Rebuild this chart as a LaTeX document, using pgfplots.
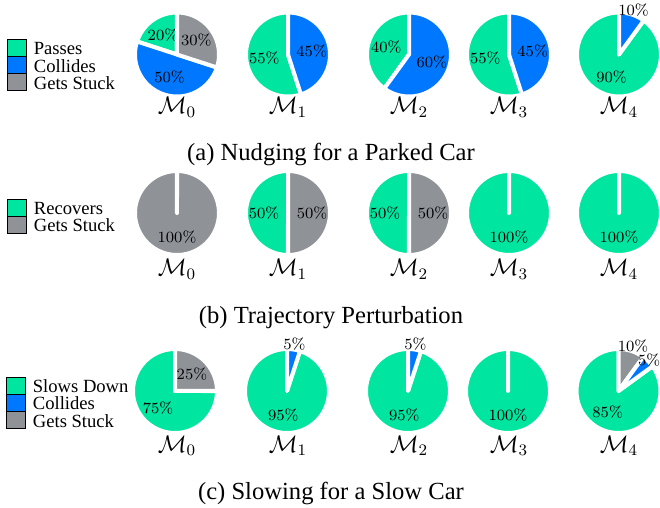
\documentclass[border=0pt]{standalone}
\usepackage[no-math]{fontspec}
\setmainfont{Liberation Serif}
\newfontfamily\lmfont{Latin Modern Roman}
\usepackage{pgfplots}
\pgfplotsset{compat=1.18}

\definecolor{pass}{RGB}{0,229,160}
\definecolor{coll}{RGB}{0,119,255}
\definecolor{stuck}{RGB}{143,147,152}

\pgfplotsset{
  pie/.style={
    hide axis, clip=false, scale only axis,
    width=42pt, height=42pt,
    xmin=-1, xmax=1, ymin=-1, ymax=1,
    anchor=origin,
  },
  pielegend/.style={
    legend style={draw=none, fill=none, inner sep=0pt, outer sep=0pt,
      anchor=north west, at={#1},
      font=\fontsize{9.3}{9.3}\selectfont,
      row sep=-2.0pt, column sep=0pt,
      nodes={inner sep=0pt, outer sep=0pt, text height=6.0pt, text depth=2.6pt}},
    legend cell align=left,
    legend image code/.code={
      \draw[##1, draw=black, line width=0.5pt] (0pt,-2.6pt) rectangle (9.5pt,6.0pt);
      \path (13pt,0pt);
    },
  },
}

% start (%), value (%), colour, label radius
\newcommand\slice[4]{%
  \addplot[forget plot, fill=#3, draw=white, line width=2pt, line join=round,
    domain=90+3.6*(#1):90+3.6*(#1+#2), samples=72, variable=\t]
    ({cos(\t)},{sin(\t)}) -- (axis cs:0,0) -- cycle;
  \node[font=\lmfont\fontsize{7.8}{7.8}\selectfont, inner sep=0pt]
    at (axis cs:{#4*cos(90+3.6*(#1+#2/2))},{#4*sin(90+3.6*(#1+#2/2))}) {#2\%};
}

\begin{document}
\begin{tikzpicture}
\useasboundingbox (0,0) rectangle (330pt,-254pt);

% ---------- (a) Nudging for a Parked Car
\begin{axis}[pie, at={(88.5pt,-27.25pt)},
    pielegend={(axis description cs:-1.524,0.6845)}]
  \addlegendimage{fill=pass}\addlegendentry{Passes}
  \addlegendimage{fill=coll}\addlegendentry{Collides}
  \addlegendimage{fill=stuck}\addlegendentry{Gets Stuck}
  \slice{0}{20}{pass}{0.57}
  \slice{20}{50}{coll}{0.57}
  \slice{70}{30}{stuck}{0.57}
\end{axis}
\begin{axis}[pie, at={(144pt,-27.25pt)}]
  \slice{0}{55}{pass}{0.57}
  \slice{55}{45}{coll}{0.57}
\end{axis}
\begin{axis}[pie, at={(204.5pt,-27.25pt)}]
  \slice{0}{40}{pass}{0.57}
  \slice{40}{60}{coll}{0.57}
\end{axis}
\begin{axis}[pie, at={(254.5pt,-27.25pt)}]
  \slice{0}{55}{pass}{0.57}
  \slice{55}{45}{coll}{0.57}
\end{axis}
\begin{axis}[pie, at={(309.5pt,-27.25pt)}]
  \slice{0}{90}{pass}{0.57}
  \slice{90}{10}{coll}{1.12}
\end{axis}

% ---------- (b) Trajectory Perturbation
\begin{axis}[pie, at={(88.5pt,-106.5pt)},
    pielegend={(axis description cs:-1.524,0.667)}]
  \addlegendimage{fill=pass}\addlegendentry{Recovers}
  \addlegendimage{fill=stuck}\addlegendentry{Gets Stuck}
  \slice{0}{100}{stuck}{0.57}
\end{axis}
\begin{axis}[pie, at={(144pt,-106.5pt)}]
  \slice{0}{50}{pass}{0.57}
  \slice{50}{50}{stuck}{0.57}
\end{axis}
\begin{axis}[pie, at={(204.5pt,-106.5pt)}]
  \slice{0}{50}{pass}{0.57}
  \slice{50}{50}{stuck}{0.57}
\end{axis}
\begin{axis}[pie, at={(254.5pt,-106.5pt)}]
  \slice{0}{100}{pass}{0.57}
\end{axis}
\begin{axis}[pie, at={(309.5pt,-106.5pt)}]
  \slice{0}{100}{pass}{0.57}
\end{axis}

% ---------- (c) Slowing for a Slow Car
\begin{axis}[pie, at={(87.5pt,-195.5pt)},
    pielegend={(axis description cs:-1.512,0.667)}]
  \addlegendimage{fill=pass}\addlegendentry{Slows Down}
  \addlegendimage{fill=coll}\addlegendentry{Collides}
  \addlegendimage{fill=stuck}\addlegendentry{Gets Stuck}
  \slice{0}{75}{pass}{0.57}
  \slice{75}{25}{stuck}{0.57}
\end{axis}
\begin{axis}[pie, at={(143.5pt,-195.5pt)}]
  \slice{0}{95}{pass}{0.57}
  \slice{95}{5}{coll}{1.12}
\end{axis}
\begin{axis}[pie, at={(204pt,-195.5pt)}]
  \slice{0}{95}{pass}{0.57}
  \slice{95}{5}{coll}{1.12}
\end{axis}
\begin{axis}[pie, at={(254pt,-195.5pt)}]
  \slice{0}{100}{pass}{0.57}
\end{axis}
\begin{axis}[pie, at={(309.25pt,-195.5pt)}]
  \slice{0}{85}{pass}{0.57}
  \slice{90}{10}{stuck}{1.12}
  \slice{85}{5}{coll}{1.03}
\end{axis}

% model names and captions
\begin{scope}[every node/.style={anchor=base, inner sep=0pt, font=\fontsize{12}{12}\selectfont}]
  \foreach \x/\i in {88.5/0,144/1,204.5/2,254.5/3,309.5/4}{
    \node at (\x pt,-57pt) {$\mathcal{M}_\i$};
    \node at (\x pt,-138pt) {$\mathcal{M}_\i$};
    \node at (\x pt,-226pt) {$\mathcal{M}_\i$};
  }
  \node[font=\fontsize{12.3}{12.3}\selectfont] at (165.5pt,-80.3pt) {(a) Nudging for a Parked Car};
  \node[font=\fontsize{12.3}{12.3}\selectfont] at (165.5pt,-162pt) {(b) Trajectory Perturbation};
  \node[font=\fontsize{12.3}{12.3}\selectfont] at (165.5pt,-250pt) {(c) Slowing for a Slow Car};
\end{scope}
\end{tikzpicture}
\end{document}
